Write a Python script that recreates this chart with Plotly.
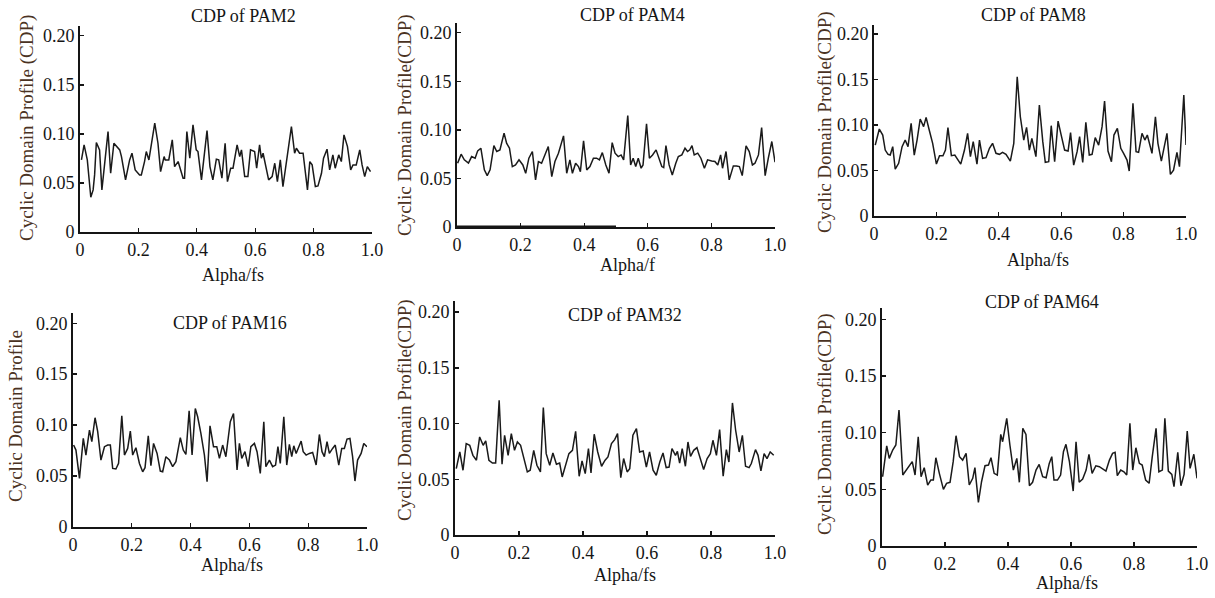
import plotly.graph_objects as go

# ---------------- data ----------------
pam2_alpha = [0.005,0.014,0.025,0.037,0.045,0.050,0.056,0.067,0.075,0.096,0.105,0.116,0.136,0.142,0.156,0.170,0.178,0.189,0.204,0.210,0.221,0.227,0.236,0.256,0.267,0.276,0.288,0.292,0.304,0.316,0.324,0.336,0.353,0.358,0.366,0.376,0.387,0.398,0.404,0.416,0.435,0.445,0.455,0.467,0.475,0.486,0.497,0.505,0.516,0.524,0.538,0.547,0.553,0.564,0.575,0.584,0.598,0.605,0.615,0.621,0.627,0.632,0.646,0.658,0.667,0.676,0.686,0.695,0.707,0.724,0.735,0.741,0.752,0.764,0.779,0.787,0.795,0.806,0.815,0.827,0.834,0.846,0.855,0.866,0.874,0.886,0.895,0.904,0.916,0.927,0.935,0.946,0.958,0.966,0.975,0.984,0.995]
pam2_cdp = [0.0735,0.0888,0.0735,0.0354,0.0429,0.0582,0.0912,0.0837,0.0429,0.1024,0.0599,0.0905,0.0837,0.0769,0.0531,0.0735,0.0803,0.0633,0.0582,0.0582,0.0718,0.0820,0.0735,0.1109,0.0905,0.0616,0.0769,0.0735,0.0735,0.0939,0.0667,0.0718,0.0548,0.0548,0.1024,0.0752,0.1092,0.0837,0.0820,0.0531,0.1034,0.0667,0.0531,0.0742,0.0735,0.0548,0.0905,0.0514,0.0650,0.0650,0.0888,0.0769,0.0837,0.0565,0.0565,0.0837,0.0820,0.0650,0.0888,0.0752,0.0803,0.0735,0.0531,0.0565,0.0701,0.0514,0.0735,0.0463,0.0701,0.1075,0.0803,0.0854,0.0803,0.0803,0.0429,0.0718,0.0684,0.0463,0.0469,0.0599,0.0752,0.0844,0.0633,0.0786,0.0650,0.0786,0.0718,0.0990,0.0871,0.0633,0.0684,0.0684,0.0837,0.0684,0.0565,0.0667,0.0616]

pam4_alpha = [0.002,0.013,0.023,0.036,0.046,0.057,0.065,0.075,0.086,0.095,0.104,0.116,0.125,0.135,0.148,0.156,0.165,0.174,0.184,0.195,0.207,0.216,0.226,0.237,0.247,0.256,0.266,0.277,0.287,0.298,0.308,0.319,0.327,0.335,0.345,0.355,0.363,0.373,0.382,0.388,0.398,0.408,0.418,0.429,0.439,0.448,0.457,0.468,0.478,0.488,0.497,0.507,0.516,0.524,0.537,0.546,0.554,0.562,0.570,0.579,0.585,0.596,0.605,0.615,0.626,0.633,0.644,0.650,0.657,0.667,0.677,0.688,0.696,0.707,0.717,0.725,0.732,0.739,0.746,0.757,0.767,0.778,0.788,0.801,0.811,0.820,0.829,0.835,0.846,0.856,0.869,0.879,0.888,0.897,0.909,0.919,0.929,0.937,0.948,0.958,0.969,0.979,0.990,1.000]
pam4_cdp = [0.0657,0.0749,0.0691,0.0657,0.0725,0.0708,0.0784,0.0811,0.0588,0.0529,0.0588,0.0838,0.0777,0.0794,0.0966,0.0863,0.0811,0.0622,0.0639,0.0691,0.0639,0.0553,0.0708,0.0777,0.0485,0.0674,0.0657,0.0742,0.0828,0.0519,0.0674,0.0760,0.0845,0.0938,0.0553,0.0691,0.0553,0.0657,0.0622,0.0570,0.0887,0.0588,0.0622,0.0708,0.0708,0.0691,0.0766,0.0639,0.0553,0.0869,0.0760,0.0725,0.0742,0.0691,0.1148,0.0639,0.0708,0.0622,0.0708,0.0605,0.0639,0.1062,0.0708,0.0742,0.0794,0.0725,0.0622,0.0612,0.0838,0.0639,0.0536,0.0657,0.0725,0.0742,0.0811,0.0777,0.0794,0.0838,0.0742,0.0760,0.0708,0.0605,0.0691,0.0680,0.0674,0.0639,0.0742,0.0605,0.0777,0.0485,0.0629,0.0629,0.0622,0.0529,0.0835,0.0777,0.0639,0.0657,0.0742,0.1024,0.0529,0.0708,0.0880,0.0667]

pam8_alpha = [0.004,0.017,0.028,0.036,0.045,0.052,0.060,0.068,0.079,0.090,0.100,0.109,0.119,0.129,0.138,0.148,0.159,0.167,0.177,0.188,0.200,0.210,0.221,0.229,0.237,0.248,0.259,0.269,0.278,0.290,0.300,0.309,0.318,0.330,0.338,0.348,0.359,0.370,0.380,0.391,0.402,0.412,0.423,0.437,0.448,0.459,0.469,0.480,0.489,0.498,0.506,0.519,0.530,0.541,0.549,0.560,0.568,0.579,0.590,0.600,0.611,0.622,0.630,0.640,0.651,0.659,0.669,0.679,0.690,0.699,0.709,0.720,0.731,0.739,0.750,0.761,0.769,0.780,0.791,0.800,0.811,0.818,0.830,0.840,0.848,0.859,0.868,0.876,0.891,0.902,0.910,0.921,0.929,0.939,0.950,0.960,0.971,0.979,0.993,1.000]
pam8_cdp = [0.0780,0.0956,0.0890,0.0725,0.0678,0.0670,0.0762,0.0516,0.0579,0.0762,0.0835,0.0762,0.1018,0.0670,0.0835,0.1066,0.0982,0.1084,0.0945,0.0799,0.0571,0.0663,0.0663,0.0725,0.0971,0.0663,0.0670,0.0615,0.0571,0.0725,0.0909,0.0652,0.0817,0.0571,0.0835,0.0634,0.0641,0.0744,0.0799,0.0689,0.0678,0.0700,0.0678,0.0604,0.0799,0.1531,0.1091,0.0835,0.0975,0.0725,0.0854,0.0652,0.1220,0.0817,0.0590,0.0597,0.0993,0.0597,0.1044,0.0890,0.0725,0.0714,0.0916,0.0560,0.0707,0.0872,0.0590,0.1029,0.0670,0.0678,0.0861,0.0780,0.0982,0.1264,0.0714,0.0597,0.0890,0.0963,0.0744,0.0689,0.0615,0.0495,0.1238,0.0707,0.0700,0.0909,0.0835,0.0890,0.0689,0.1091,0.0799,0.0604,0.0751,0.0909,0.0458,0.0505,0.0700,0.0542,0.1330,0.0780]

pam16_alpha = [0.002,0.010,0.022,0.035,0.044,0.056,0.064,0.075,0.084,0.095,0.107,0.118,0.127,0.135,0.146,0.155,0.166,0.175,0.186,0.195,0.203,0.214,0.226,0.237,0.245,0.256,0.265,0.274,0.286,0.297,0.305,0.316,0.328,0.339,0.350,0.365,0.375,0.384,0.395,0.405,0.416,0.424,0.435,0.447,0.456,0.466,0.478,0.489,0.498,0.509,0.520,0.535,0.546,0.558,0.566,0.574,0.585,0.596,0.605,0.617,0.626,0.637,0.649,0.656,0.668,0.679,0.689,0.697,0.705,0.717,0.727,0.736,0.744,0.751,0.759,0.776,0.783,0.793,0.804,0.815,0.827,0.838,0.847,0.855,0.864,0.872,0.883,0.892,0.904,0.914,0.923,0.932,0.942,0.951,0.959,0.968,0.980,0.989,1.000]
pam16_cdp = [0.0804,0.0755,0.0477,0.0869,0.0706,0.0951,0.0837,0.1072,0.0935,0.0657,0.0788,0.0804,0.0804,0.0575,0.0569,0.0624,0.1092,0.0706,0.0771,0.0941,0.0706,0.0778,0.0624,0.0542,0.0582,0.0895,0.0601,0.0820,0.0722,0.0549,0.0542,0.0690,0.0657,0.0592,0.0641,0.0876,0.0755,0.0712,0.1141,0.0706,0.1163,0.1082,0.0918,0.0706,0.0444,0.0993,0.0788,0.0788,0.0673,0.0804,0.0690,0.1033,0.1114,0.0559,0.0820,0.0673,0.0739,0.0592,0.0788,0.0820,0.0739,0.0526,0.1033,0.0592,0.0657,0.0592,0.0608,0.0788,0.0624,0.1082,0.0608,0.0810,0.0690,0.0797,0.0722,0.0843,0.0739,0.0706,0.0722,0.0732,0.0608,0.0908,0.0739,0.0690,0.0837,0.0722,0.0771,0.0804,0.0608,0.0771,0.0771,0.0863,0.0869,0.0690,0.0451,0.0657,0.0722,0.0820,0.0788]

pam32_alpha = [0.004,0.015,0.025,0.035,0.046,0.056,0.067,0.077,0.088,0.096,0.106,0.117,0.127,0.138,0.147,0.155,0.166,0.176,0.186,0.195,0.205,0.216,0.226,0.235,0.246,0.256,0.267,0.276,0.285,0.296,0.306,0.317,0.327,0.335,0.346,0.356,0.367,0.377,0.388,0.397,0.407,0.417,0.425,0.435,0.446,0.458,0.469,0.478,0.489,0.499,0.508,0.518,0.527,0.538,0.546,0.556,0.567,0.577,0.588,0.598,0.608,0.619,0.629,0.640,0.650,0.660,0.669,0.678,0.689,0.695,0.702,0.710,0.720,0.728,0.736,0.746,0.756,0.767,0.777,0.788,0.798,0.806,0.817,0.827,0.838,0.848,0.856,0.867,0.877,0.888,0.898,0.908,0.919,0.926,0.939,0.947,0.956,0.966,0.975,0.985,0.996]
pam32_cdp = [0.0596,0.0745,0.0581,0.0820,0.0805,0.0715,0.0671,0.0880,0.0805,0.0844,0.0671,0.0646,0.0646,0.1209,0.0635,0.0895,0.0715,0.0910,0.0760,0.0835,0.0805,0.0686,0.0566,0.0581,0.0760,0.0626,0.0566,0.1144,0.0730,0.0626,0.0736,0.0635,0.0646,0.0521,0.0626,0.0730,0.0760,0.0931,0.0527,0.0664,0.0551,0.0776,0.0557,0.0904,0.0745,0.0617,0.0671,0.0700,0.0820,0.0856,0.0910,0.0515,0.0686,0.0566,0.0596,0.0895,0.0955,0.0745,0.0754,0.0610,0.0745,0.0581,0.0536,0.0655,0.0736,0.0605,0.0610,0.0776,0.0715,0.0751,0.0646,0.0776,0.0617,0.0835,0.0706,0.0760,0.0784,0.0686,0.0587,0.0686,0.0730,0.0850,0.0715,0.0946,0.0527,0.0766,0.0655,0.1185,0.0940,0.0745,0.0895,0.0617,0.0605,0.0641,0.0766,0.0715,0.0575,0.0730,0.0686,0.0745,0.0715]

pam64_alpha = [0.002,0.015,0.023,0.034,0.044,0.054,0.066,0.078,0.089,0.096,0.105,0.115,0.124,0.134,0.145,0.155,0.163,0.171,0.182,0.195,0.205,0.216,0.226,0.235,0.246,0.256,0.267,0.277,0.288,0.295,0.306,0.316,0.327,0.338,0.346,0.356,0.366,0.377,0.383,0.396,0.406,0.417,0.428,0.436,0.447,0.457,0.468,0.478,0.489,0.499,0.510,0.521,0.531,0.539,0.546,0.557,0.567,0.576,0.584,0.595,0.607,0.616,0.626,0.637,0.648,0.657,0.667,0.679,0.690,0.701,0.711,0.722,0.732,0.740,0.747,0.758,0.768,0.777,0.787,0.796,0.806,0.817,0.826,0.837,0.848,0.858,0.870,0.879,0.890,0.898,0.909,0.920,0.927,0.939,0.949,0.959,0.969,0.978,0.990,1.000]
pam64_cdp = [0.0611,0.0884,0.0773,0.0847,0.0891,0.1199,0.0626,0.0670,0.0714,0.0744,0.0626,0.0964,0.0611,0.0691,0.0538,0.0582,0.0582,0.0779,0.0641,0.0500,0.0553,0.0562,0.0744,0.0973,0.0788,0.0758,0.0817,0.0538,0.0597,0.0691,0.0385,0.0567,0.0708,0.0714,0.0779,0.0641,0.0626,0.0985,0.0920,0.1126,0.0891,0.0670,0.0773,0.0562,0.1038,0.0985,0.0532,0.0562,0.0670,0.0720,0.0611,0.0602,0.0729,0.0788,0.0582,0.0582,0.0626,0.0832,0.0897,0.0744,0.0485,0.0920,0.0562,0.0591,0.0670,0.0809,0.0641,0.0708,0.0700,0.0679,0.0661,0.0758,0.0817,0.0826,0.0620,0.0670,0.0655,0.0626,0.1082,0.0670,0.0867,0.0729,0.0714,0.0582,0.0553,0.0788,0.1038,0.0655,0.0670,0.1126,0.0661,0.0632,0.0523,0.0826,0.0532,0.0632,0.1014,0.0685,0.0809,0.0597]

titles = ["CDP of PAM2", "CDP of PAM4", "CDP of PAM8", "CDP of PAM16", "CDP of PAM32", "CDP of PAM64"]
x_titles = ["Alpha/fs", "Alpha/f", "Alpha/fs", "Alpha/fs", "Alpha/fs", "Alpha/fs"]
y_titles = ["Cyclic Domain Profile (CDP)", "Cyclic Domain Profile(CDP)", "Cyclic Domain Profile(CDP)",
            "Cyclic Domain Profile", "Cyclic Domain Profile(CDP)", "Cyclic Domain Profile(CDP)"]
x_tick_vals = [0, 0.2, 0.4, 0.6, 0.8, 1.0]
x_tick_text = ["0", "0.2", "0.4", "0.6", "0.8", "1.0"]
y_tick_vals = [0, 0.05, 0.10, 0.15, 0.20]
y_tick_text = ["0", "0.05", "0.10", "0.15", "0.20"]

series = [(pam2_alpha, pam2_cdp), (pam4_alpha, pam4_cdp), (pam8_alpha, pam8_cdp),
          (pam16_alpha, pam16_cdp), (pam32_alpha, pam32_cdp), (pam64_alpha, pam64_cdp)]

# ---------------- layout (pixel geometry of the composite) ----------------
W, H = 1215, 598
def fx(p): return p / W
def fy(p): return 1 - p / H

FONT = "Liberation Serif"
INK = "#151515"
BROWN = "#4a3222"

# (left, right, top, bottom) of each plot area in pixels
boxes = [(80, 372, 26, 232), (457, 775, 23, 227), (874, 1186, 25, 216),
         (73, 367, 313, 527), (455, 775, 301, 535), (882, 1197, 308, 546)]
title_pos = [(243, 16), (632, 15), (1033, 15), (230, 323), (625, 315), (1042, 302)]
xtitle_pos = [(233, 275), (627, 265), (1038, 260), (232, 565), (625, 575), (1067, 583)]
ytitle_pos = [(27, 128), (405, 125), (825, 122), (15, 416), (405, 410), (825, 424)]

fig = go.Figure()
annotations = []
layout = dict(template="none", width=W, height=H,
              margin=dict(l=0, r=0, t=0, b=0, pad=0, autoexpand=False),
              paper_bgcolor="white", plot_bgcolor="white", showlegend=False)

for i, (xs, ys) in enumerate(series):
    k = i + 1
    n = min(len(xs), len(ys))
    sfx = "" if k == 1 else str(k)
    fig.add_trace(go.Scatter(x=xs[:n], y=ys[:n], mode="lines",
                             line=dict(color="#1a1a1a", width=1.5),
                             xaxis="x" + sfx, yaxis="y" + sfx, hoverinfo="skip"))
    l, r, t, b = boxes[i]
    common = dict(automargin=False, showline=True, linecolor=INK, linewidth=2, mirror=False,
                  ticks="inside", ticklen=4, tickwidth=1.3, tickcolor=INK,
                  showgrid=False, zeroline=False, fixedrange=True,
                  tickfont=dict(family=FONT, size=18, color=INK))
    layout["xaxis" + sfx] = dict(domain=[fx(l), fx(r)], anchor="y" + sfx, range=[0, 1.0],
                                 tickvals=x_tick_vals, ticktext=x_tick_text, **common)
    layout["yaxis" + sfx] = dict(domain=[fy(b), fy(t)], anchor="x" + sfx, range=[0, 0.21],
                                 tickvals=y_tick_vals, ticktext=y_tick_text, **common)
    tx, ty = title_pos[i]
    annotations.append(dict(text=titles[i], x=fx(tx), y=fy(ty), xref="paper", yref="paper",
                            xanchor="center", yanchor="middle", showarrow=False,
                            font=dict(family=FONT, size=18, color=INK)))
    ax_, ay_ = xtitle_pos[i]
    annotations.append(dict(text=x_titles[i], x=fx(ax_), y=fy(ay_), xref="paper", yref="paper",
                            xanchor="center", yanchor="middle", showarrow=False,
                            font=dict(family=FONT, size=18, color=INK)))
    bx, by = ytitle_pos[i]
    annotations.append(dict(text=y_titles[i], x=fx(bx), y=fy(by), xref="paper", yref="paper",
                            xanchor="center", yanchor="middle", showarrow=False, textangle=-90,
                            font=dict(family=FONT, size=19, color=BROWN)))

layout["annotations"] = annotations
# thicker segment visible on the PAM4 x-axis (0 to 0.5)
layout["shapes"] = [dict(type="line", xref="x2", yref="y2", x0=0, x1=0.5, y0=0, y1=0,
                         line=dict(color=INK, width=3.2), layer="above")]
fig.update_layout(**layout)
# remove the browser's default page margin so the figure sits at the window's top-left corner
fig.write_html("out.html", config={"displayModeBar": False, "staticPlot": True},
               post_script="document.body.style.margin='0px';document.body.style.overflow='hidden';")
